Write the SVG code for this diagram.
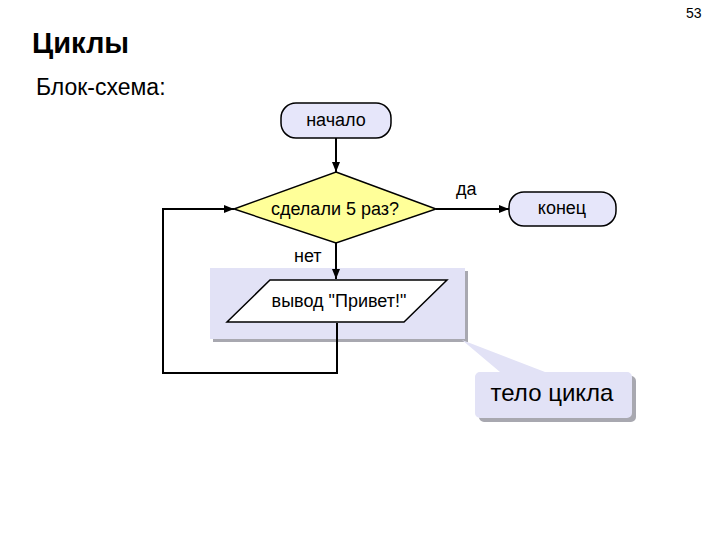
<svg xmlns="http://www.w3.org/2000/svg" width="720" height="540" viewBox="0 0 720 540">
<style>
text{font-family:"Liberation Sans",Arial,sans-serif;fill:#000}
.term{fill:#e6e6fa;stroke:#000;stroke-width:1.5}
.ln{fill:none;stroke:#000;stroke-width:2}
.lbl{font-size:18px}
.sh{fill:#a8a8b0}
.bg{fill:#e2e2f6}
</style>
<defs>
<marker id="ar" viewBox="0 0 10 10" refX="10" refY="5" markerWidth="5" markerHeight="5" orient="auto" markerUnits="strokeWidth">
<path d="M0,1 L10,5 L0,9 z" fill="#000"/>
</marker>
</defs>
<rect width="720" height="540" fill="#fff"/>
<text x="686" y="18" font-size="14">53</text>
<text x="32" y="53" font-size="29" font-weight="bold">Циклы</text>
<text x="36" y="95" font-size="23">Блок-схема:</text>

<g id="body-highlight">
<rect class="sh" x="213" y="271" width="255" height="71"/>
<rect class="bg" x="210" y="268" width="255" height="71"/>
</g>

<g id="callout">
<path class="sh" d="M479,376 h152 a5,5 0 0 1 5,5 v36 a5,5 0 0 1 -5,5 h-147 a5,5 0 0 1 -5,-5 v-36 a5,5 0 0 1 5,-5 z"/>
<path class="bg" d="M480,372 h20 L462,340 L545,372 h82 a5,5 0 0 1 5,5 v36 a5,5 0 0 1 -5,5 h-147 a5,5 0 0 1 -5,-5 v-36 a5,5 0 0 1 5,-5 z"/>
<text x="552" y="401" font-size="24" text-anchor="middle">тело цикла</text>
</g>

<g id="connectors">
<path class="ln" d="M336,138 V172" marker-end="url(#ar)"/>
<path class="ln" d="M436,209 H509" marker-end="url(#ar)"/>
<path class="ln" d="M336,243 V279" marker-end="url(#ar)"/>
<path class="ln" d="M337,323 V373 H163 V209 H234" marker-end="url(#ar)"/>
<text x="456" y="195" font-size="18">да</text>
<text x="294" y="262" font-size="18">нет</text>
</g>

<g id="start">
<rect class="term" x="281" y="103" width="110" height="35" rx="15" ry="15"/>
<text class="lbl" x="336" y="126" text-anchor="middle">начало</text>
</g>

<g id="cond">
<polygon points="336,172 436,209 336,243 234,209" fill="#ffff99" stroke="#000" stroke-width="1.5"/>
<text class="lbl" x="335" y="215" text-anchor="middle">сделали 5 раз?</text>
</g>

<g id="end">
<rect class="term" x="509" y="192" width="107" height="34" rx="15" ry="15"/>
<text class="lbl" x="562" y="214" text-anchor="middle">конец</text>
</g>

<g id="output">
<polygon points="270,280 447,280 404,322 227,322" fill="#fff" stroke="#000" stroke-width="1.5"/>
<text class="lbl" x="339" y="307" text-anchor="middle">вывод "Привет!"</text>
</g>
</svg>
